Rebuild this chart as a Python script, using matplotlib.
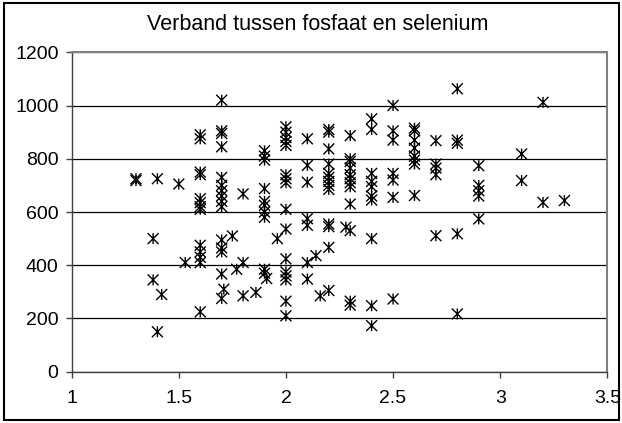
import matplotlib
matplotlib.use("Agg")
import matplotlib.pyplot as plt
from matplotlib.path import Path
from matplotlib.patches import Rectangle

# fosfaat (x) and selenium (y)
fosfaat = [1.3, 1.3,
           1.38, 1.38, 1.4, 1.4, 1.42,
           1.5, 1.53,
           1.6, 1.6, 1.6, 1.6, 1.6, 1.6, 1.6, 1.6, 1.6, 1.6, 1.6, 1.6, 1.6,
           1.7, 1.7, 1.7, 1.7, 1.7, 1.7, 1.7, 1.7, 1.7, 1.7, 1.7, 1.7, 1.7, 1.7, 1.7, 1.71,
           1.75, 1.77, 1.8, 1.8, 1.8, 1.86,
           1.9, 1.9, 1.9, 1.9, 1.9, 1.9, 1.9, 1.9, 1.9, 1.9, 1.91, 1.96,
           2.0, 2.0, 2.0, 2.0, 2.0, 2.0, 2.0, 2.0, 2.0, 2.0, 2.0, 2.0, 2.0, 2.0, 2.0, 2.0,
           2.1, 2.1, 2.1, 2.1, 2.1, 2.1, 2.1, 2.14, 2.16,
           2.2, 2.2, 2.2, 2.2, 2.2, 2.2, 2.2, 2.2, 2.2, 2.2, 2.2, 2.2, 2.2, 2.28,
           2.3, 2.3, 2.3, 2.3, 2.3, 2.3, 2.3, 2.3, 2.3, 2.3, 2.3, 2.3,
           2.4, 2.4, 2.4, 2.4, 2.4, 2.4, 2.4, 2.4, 2.4, 2.4,
           2.5, 2.5, 2.5, 2.5, 2.5, 2.5, 2.5,
           2.6, 2.6, 2.6, 2.6, 2.6, 2.6, 2.6, 2.6,
           2.7, 2.7, 2.7, 2.7, 2.7,
           2.8, 2.8, 2.8, 2.8, 2.8,
           2.9, 2.9, 2.9, 2.9, 2.9,
           3.1, 3.1, 3.2, 3.2, 3.3]
selenium = [725, 718,
            500, 345, 725, 150, 290,
            705, 410,
            890, 875, 750, 740, 650, 635, 620, 610, 475, 450, 430, 410, 225,
            1020, 905, 895, 845, 730, 700, 680, 660, 640, 620, 495, 465, 450, 367, 275, 310,
            510, 385, 668, 410, 285, 298,
            830, 810, 795, 688, 640, 625, 600, 580, 385, 370, 350, 500,
            920, 900, 880, 865, 850, 740, 725, 710, 610, 536, 424, 375, 360, 345, 265, 210,
            875, 775, 712, 575, 550, 410, 348, 436, 285,
            910, 900, 837, 780, 745, 730, 715, 700, 685, 555, 545, 467, 305, 543,
            887, 800, 790, 765, 740, 725, 710, 695, 630, 530, 265, 250,
            950, 910, 745, 715, 695, 660, 645, 500, 248, 173,
            1000, 905, 870, 745, 720, 655, 273,
            915, 905, 870, 840, 810, 795, 780, 662,
            868, 780, 765, 740, 511,
            1063, 870, 858, 518, 217,
            774, 700, 680, 660, 574,
            818, 718, 1012, 636, 643]

xticks = [1, 1.5, 2, 2.5, 3, 3.5]
xticklabels = ["1", "1.5", "2", "2.5", "3", "3.5"]
yticks = [0, 200, 400, 600, 800, 1000, 1200]

plt.rcParams['font.family'] = ['Liberation Sans', 'DejaVu Sans']

# excel style star: an X with a vertical stroke through it
star = Path([(-1, -1), (1, 1), (-1, 1), (1, -1), (0, -1), (0, 1)],
            [Path.MOVETO, Path.LINETO, Path.MOVETO, Path.LINETO, Path.MOVETO, Path.LINETO])

fig = plt.figure(figsize=(6.22, 4.23), dpi=100)
ax = fig.add_axes([71.7/622, 1 - 371.7/423, (607.3 - 71.7)/622, (371.7 - 52.3)/423])

ax.scatter(fosfaat, selenium, marker=star, s=62, c='none', edgecolors='black', linewidths=1.0, zorder=3)

ax.set_xlim(1, 3.5)
ax.set_ylim(0, 1200)
ax.set_xticks(xticks)
ax.set_xticklabels(xticklabels)
ax.set_yticks(yticks)
ax.yaxis.grid(True, color='black', linewidth=0.9)
ax.set_axisbelow(True)

for side in ['top', 'right']:
    ax.spines[side].set_color('#808080')
    ax.spines[side].set_linewidth(1.5)
for side in ['left', 'bottom']:
    ax.spines[side].set_color('#404040')
    ax.spines[side].set_linewidth(1.0)

ax.tick_params(axis='both', direction='out', length=4.5, width=1.0, color='#404040', labelsize=14)
ax.tick_params(axis='x', pad=9)
ax.tick_params(axis='y', pad=5)

fig.text(318/622, 1 - 24/423, "Verband tussen fosfaat en selenium", ha='center', va='center', fontsize=15.5)

# outer chart border
fig.patches.append(Rectangle((4/622, 3/423), 615/622, 417/423, transform=fig.transFigure,
                             fill=False, edgecolor='black', linewidth=1.5))

fig.savefig("out.png", dpi=100)
